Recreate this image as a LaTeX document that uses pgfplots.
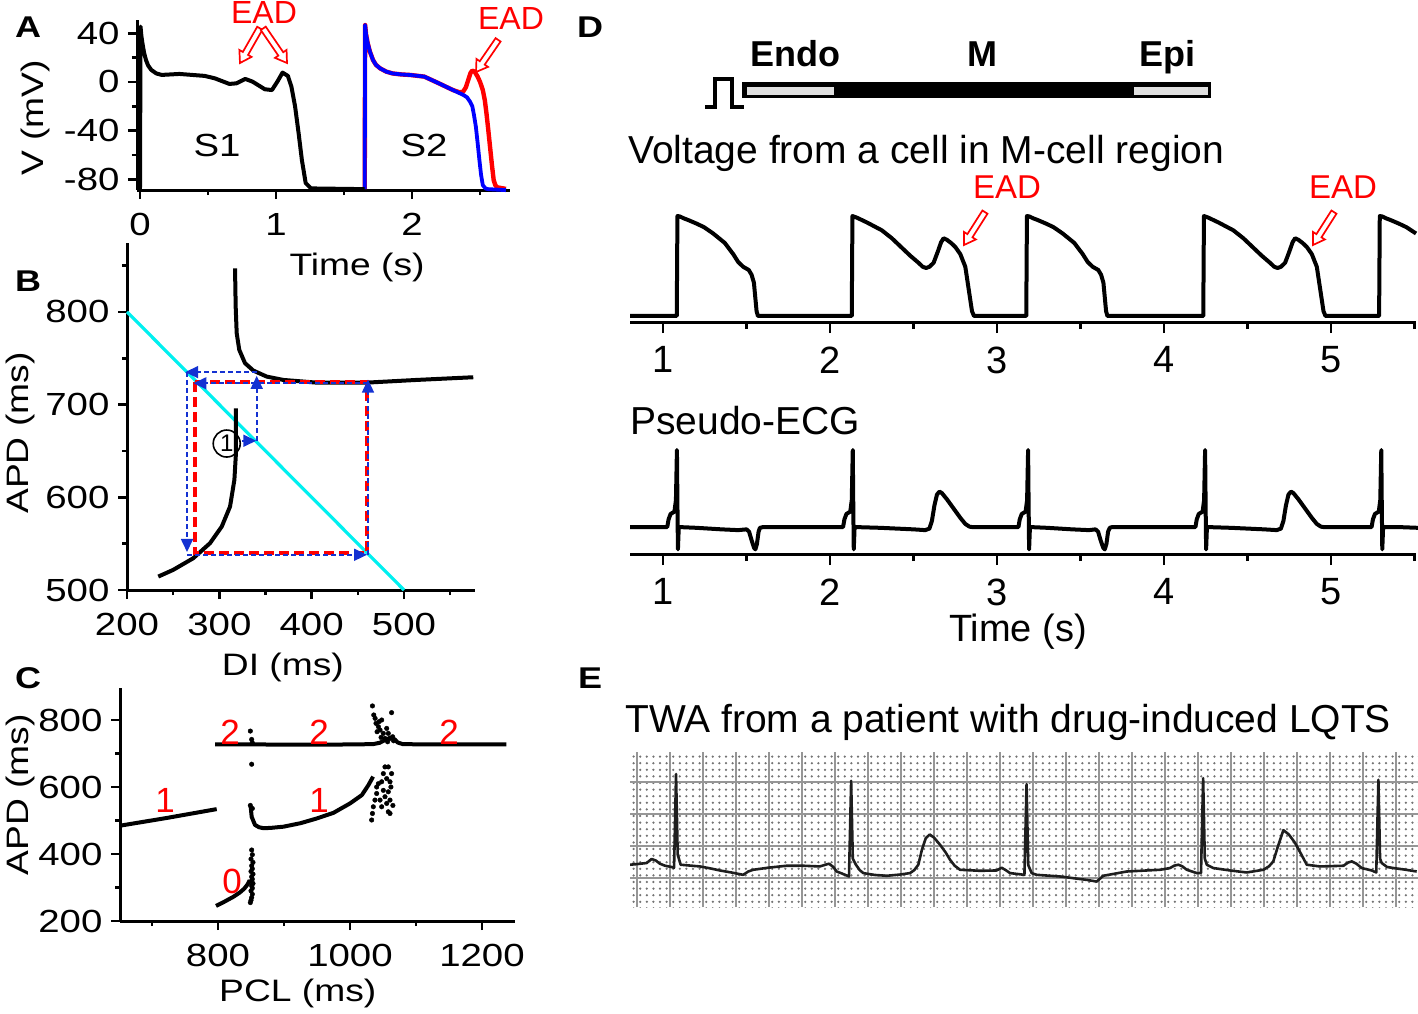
\documentclass[border=0pt]{standalone}
\usepackage{fontspec}
\setmainfont{Liberation Sans}
\newfontfamily\wf[FakeStretch=1.2]{Liberation Sans}
\usepackage{pgfplots}
\pgfplotsset{compat=1.18}
\usetikzlibrary{arrows.meta,patterns.meta}

\definecolor{cobblue}{RGB}{20,50,210}
\definecolor{dline}{RGB}{0,240,240}
\definecolor{ecg}{RGB}{30,30,30}
\definecolor{gridgray}{RGB}{150,150,150}

\pgfplotsset{
  panel/.style={
    scale only axis, anchor=south west, clip=false,
    axis x line*=bottom, axis y line*=left,
    tick align=outside,
    major tick length=9pt, minor tick length=5pt,
    every tick/.style={black, line width=2.6pt},
    axis line style={line width=3pt},
    tick label style={font=\wf\fontsize{32}{38}\selectfont},
    xticklabel style={yshift=-11pt},
    yticklabel style={xshift=-5pt},
    label style={font=\wf\fontsize{31}{37}\selectfont},
    /pgf/number format/assume math mode=true,
    /pgf/number format/1000 sep={},
  },
  trace/.style={black, line width=4pt, line join=round},
}

% hollow red arrow, tip at the origin, pointing along +x
\newcommand\hollowarrow[4]{% tip x, tip y, angle, length
  \begin{scope}[shift={(#1,#2)}, rotate=#3]
    \draw[red, line width=1.7pt, fill=white, line join=miter]
      (0,0) -- (-11,-7) -- (-11,-3) -- (-#4,-3) -- (-#4,3) -- (-11,3) -- (-11,7) -- cycle;
  \end{scope}}

\begin{document}
\begin{tikzpicture}
\useasboundingbox (0pt,0pt) rectangle (1418pt,-1014pt);

% ---------------- A ----------------
\begin{axis}[panel, at={(137pt,-190pt)}, width=373pt, height=170pt,
  xmin=-0.022, xmax=2.72, ymin=-88.7, ymax=50.9,
  xtick={0,1,2}, minor xtick={0.5,1.5,2.5},
  ytick={-80,-40,0,40}, minor ytick={-60,-20,20},
  xlabel={Time (s)}, ylabel={V (mV)},
  xlabel style={at={(axis description cs:0.59,-0.453)}, anchor=center},
  ylabel style={at={(axis description cs:-0.273,0.424)}, anchor=center},
]
\addplot[red, line width=4.4pt, line join=round] coordinates {
 (1.652,-88) (1.655,46.8) (1.662,39) (1.674,31.8) (1.69,25) (1.713,18) (1.735,14)
 (1.765,11.2) (1.81,8.5) (1.857,7) (1.92,6.2) (1.987,5.75) (2.09,4.4) (2.195,-1)
 (2.3,-6.6) (2.35,-8.5) (2.375,-8) (2.395,-4.5) (2.417,3) (2.43,7.5) (2.443,9.3)
 (2.46,8.5) (2.482,4.4) (2.50,0) (2.52,-6.6) (2.535,-15) (2.547,-25.8) (2.56,-39)
 (2.573,-53) (2.587,-68) (2.6,-80.6) (2.613,-85) (2.626,-86.5) (2.69,-87.8)};
\addplot[blue, line width=3.8pt, line join=round] coordinates {
 (1.652,-88) (1.655,46.8) (1.662,39) (1.674,31.8) (1.69,25) (1.713,18) (1.735,14)
 (1.765,11.2) (1.81,8.5) (1.857,7) (1.92,6.2) (1.987,5.75) (2.09,4.4) (2.195,-1)
 (2.3,-6.6) (2.378,-10.7) (2.404,-12.6) (2.425,-16) (2.443,-20) (2.455,-27)
 (2.469,-36.7) (2.482,-50) (2.495,-64) (2.507,-76) (2.52,-84.7) (2.54,-87.5)
 (2.56,-88) (2.69,-88.8)};
\addplot[trace] coordinates {
 (0.0,-88) (0.004,45.5) (0.01,38) (0.018,31.8) (0.03,24) (0.044,18) (0.06,13.5)
 (0.083,9.9) (0.12,7) (0.16,5.8) (0.29,6.6) (0.475,5) (0.55,3) (0.657,-1.6)
 (0.71,-1.1) (0.774,2.5) (0.827,0.3) (0.918,-6) (0.97,-6.6) (1.01,0.3) (1.048,7.7)
 (1.087,5) (1.113,-3.8) (1.14,-20) (1.166,-42) (1.19,-64) (1.218,-83) (1.257,-87.4)
 (1.652,-88)};
\end{axis}

% ---------------- B ----------------
\begin{axis}[panel, at={(127pt,-590pt)}, width=348pt, height=347pt,
  xmin=200, xmax=576.9, ymin=500, ymax=874.3,
  xtick={200,300,400,500}, minor xtick={250,350,450,550},
  ytick={500,600,700,800}, minor ytick={550,650,750,850},
  xlabel={DI (ms)}, ylabel={APD (ms)},
  xlabel style={at={(axis description cs:0.448,-0.222)}, anchor=center},
  ylabel style={at={(axis description cs:-0.307,0.452)}, anchor=center},
]
\addplot[dline, line width=3.2pt] coordinates {(200,800) (500,500)};
\addplot[trace] coordinates {
 (317,847) (317.7,805.7) (318.8,777) (321.6,759) (327.8,744.7) (336.8,736.7)
 (351.3,730.2) (369.3,726.6) (405.4,723.7) (459.6,723.7) (513.8,726.6) (575,729.5)};
\addplot[trace] coordinates {
 (233.9,514.5) (250,521.7) (271.8,534.3) (289.9,550.5) (302.6,568.4) (311.6,590)
 (316.3,618.8) (318,647.6) (318,696)};
\addplot[red, line width=4pt, dash pattern=on 10pt off 5pt] coordinates {
 (273.5,724) (273.5,540) (460,540) (460,724) (273.5,724)};
\begin{scope}[cobblue, line width=1.7pt, dash pattern=on 5pt off 3pt]
\addplot[-{Triangle[length=13pt,width=12pt]}] coordinates {(340.5,661) (340.5,731)};
\addplot[-{Triangle[length=13pt,width=12pt]}] coordinates {(340.5,735) (263,735)};
\addplot[-{Triangle[length=13pt,width=12pt]}] coordinates {(265,735) (265,541)};
\addplot[-{Triangle[length=13pt,width=12pt]}] coordinates {(265,538) (460,538)};
\addplot[-{Triangle[length=13pt,width=12pt]}] coordinates {(461,538) (461,727)};
\addplot[-{Triangle[length=13pt,width=12pt]}] coordinates {(461,723) (272,723)};
\addplot[-{Triangle[length=13pt,width=12pt]}] coordinates {(325,661) (340,661)};
\end{scope}
\node[draw, circle, line width=1.6pt, minimum size=27pt, inner sep=0pt,
  font=\fontsize{24}{26}\selectfont] at (axis cs:308,658) {1};
\end{axis}

% ---------------- C ----------------
\begin{axis}[panel, at={(120pt,-921pt)}, width=395pt, height=233pt,
  xmin=651.5, xmax=1250, ymin=200, ymax=895.5,
  xtick={800,1000,1200}, minor xtick={700,900,1100},
  ytick={200,400,600,800}, minor ytick={300,500,700},
  xlabel={PCL (ms)}, ylabel={APD (ms)},
  xlabel style={at={(axis description cs:0.45,-0.309)}, anchor=center},
  ylabel style={at={(axis description cs:-0.253,0.541)}, anchor=center},
]
\addplot[trace] coordinates {(651.5,484.5) (722,507.5) (798,534)};
\addplot[trace] coordinates {
 (795.5,727.5) (850,727) (950,726.5) (1000,727) (1035,728) (1045,732) (1055,742)
 (1062,748) (1068,742) (1072,733) (1080,728) (1120,727) (1237,727.5)};
\addplot[trace] coordinates {
 (849.5,541) (851,511) (856,487) (862,480) (869,477) (880,478) (899,481.5) (925,492)
 (949.5,506) (975,523) (1000,551) (1018,576) (1028,606) (1035,631)};
\addplot[trace] coordinates {
 (797,245) (810,258) (823,272) (833,285) (840,297) (845,310) (848,322)};
\addplot[only marks, mark=*, mark size=2.3pt, black] coordinates {
 (849,255) (850,262) (851,270) (852,280) (850,290) (852,298) (851,305) (853,312)
 (850,318) (852,325) (851,332) (853,340) (850,348) (852,356) (851,365) (853,375)
 (850,385) (852,398) (851,412) (852,536) (849,545) (851,668) (849,767) (851,742)
 (852,732)
 (1032.8,501.5) (1034,521) (1035.3,541) (1037.8,561) (1040.4,580.6) (1040.4,600)
 (1048,615.6) (1050.5,640) (1053,660) (1058,660) (1055.6,625) (1060.6,615.6)
 (1058,585.7) (1053,571) (1055.6,551) (1060.6,561) (1058,526) (1060.6,521)
 (1048,541) (1045.5,561) (1050.5,590) (1043,610) (1063,640) (1062,600) (1065,545)
 (1034,842) (1038,805) (1039.4,790) (1043,780) (1048,800) (1063,822) (1055.6,775)
 (1058,760) (1050.5,760) (1045.5,770) (1060.6,745) (1064.6,750) (1053,745)
 (1041,765) (1047,748) (1057,735) (1066,738) (1036,815) (1044,795)};
\end{axis}

% ---------------- D: membrane voltage ----------------
\begin{axis}[panel, at={(630pt,-322pt)}, width=786pt, height=117pt,
  axis y line=none, xmin=0.802, xmax=5.509, ymin=-93.6, ymax=53.9,
  xtick={1,2,3,4,5}, minor xtick={1.5,2.5,3.5,4.5,5.5},
  major tick length=11pt, minor tick length=7pt,
  tick label style={font=\fontsize{38}{44}\selectfont},
  xticklabel style={yshift=1pt},
]
\addplot[trace] coordinates {
 (0.802,-86) (1.082,-86) (1.086,40) (1.10,39.5) (1.125,37) (1.15,35) (1.20,30.5)
 (1.245,26) (1.30,18) (1.37,6) (1.42,-8) (1.45,-18) (1.48,-24) (1.513,-28)
 (1.53,-34) (1.544,-44) (1.552,-62) (1.56,-80) (1.568,-86)
 (2.130,-86) (2.134,40) (2.16,38) (2.22,32) (2.31,22) (2.37,12) (2.43,0) (2.48,-10)
 (2.53,-19) (2.555,-24) (2.575,-25.5) (2.595,-24) (2.62,-19) (2.645,-5) (2.665,7)
 (2.68,12) (2.70,10) (2.725,6) (2.75,1) (2.78,-8) (2.81,-24) (2.825,-45) (2.84,-66)
 (2.85,-80) (2.862,-86)
 (3.175,-86) (3.179,40) (3.193,39.5) (3.218,37) (3.243,35) (3.293,30.5) (3.338,26)
 (3.393,18) (3.463,6) (3.513,-8) (3.543,-18) (3.573,-24) (3.606,-28) (3.623,-34)
 (3.637,-44) (3.645,-62) (3.653,-80) (3.661,-86)
 (4.235,-86) (4.239,40) (4.265,38) (4.325,32) (4.415,22) (4.475,12) (4.535,0)
 (4.585,-10) (4.635,-19) (4.66,-24) (4.68,-25.5) (4.70,-24) (4.725,-19) (4.75,-5)
 (4.77,7) (4.785,12) (4.805,10) (4.83,6) (4.855,1) (4.885,-8) (4.915,-24) (4.93,-45)
 (4.945,-66) (4.955,-80) (4.967,-86)
 (5.288,-86) (5.292,40) (5.306,39.5) (5.331,37) (5.356,35) (5.406,30.5) (5.451,26)
 (5.509,18)};
\end{axis}

% ---------------- D: pseudo-ECG ----------------
\begin{axis}[panel, at={(630pt,-554pt)}, width=786pt, height=114pt,
  axis y line=none, xmin=0.802, xmax=5.509, ymin=-0.35, ymax=1.13,
  xtick={1,2,3,4,5}, minor xtick={1.5,2.5,3.5,4.5,5.5},
  major tick length=11pt, minor tick length=7pt,
  tick label style={font=\fontsize{38}{44}\selectfont},
  xticklabel style={yshift=1pt},
  xlabel={Time (s)},
  label style={font=\fontsize{38}{44}\selectfont},
  xlabel style={at={(axis description cs:0.4936,-0.684)}, anchor=center},
]
\addplot[trace] coordinates {
 (0.802,0) (1.025,0) (1.033,0.1) (1.045,0.17) (1.068,0.2) (1.077,0.35) (1.083,1.0)
 (1.086,0.3) (1.089,-0.29) (1.094,0) (1.2,-0.01) (1.35,-0.03) (1.45,-0.04) (1.50,-0.03)
 (1.515,-0.06) (1.53,-0.17) (1.545,-0.27) (1.553,-0.29) (1.562,-0.22) (1.572,-0.06)
 (1.58,-0.01) (1.6,0)
 (2.078,0) (2.086,0.1) (2.098,0.17) (2.121,0.2) (2.130,0.35) (2.136,1.0) (2.139,0.3)
 (2.142,-0.29) (2.147,0) (2.3,-0.01) (2.5,-0.03) (2.57,-0.04) (2.595,-0.02) (2.61,0.08)
 (2.625,0.28) (2.64,0.42) (2.655,0.46) (2.67,0.44) (2.70,0.36) (2.74,0.24) (2.78,0.12)
 (2.81,0.04) (2.835,0.005) (2.85,0)
 (3.128,0) (3.136,0.1) (3.148,0.17) (3.171,0.2) (3.180,0.35) (3.186,1.0) (3.189,0.3)
 (3.192,-0.29) (3.197,0) (3.3,-0.01) (3.45,-0.03) (3.55,-0.04) (3.59,-0.03)
 (3.605,-0.06) (3.62,-0.17) (3.636,-0.27) (3.645,-0.29) (3.655,-0.22) (3.665,-0.06)
 (3.675,-0.01) (3.69,0)
 (4.188,0) (4.196,0.1) (4.208,0.17) (4.231,0.2) (4.240,0.35) (4.246,1.0) (4.249,0.3)
 (4.252,-0.29) (4.257,0) (4.4,-0.01) (4.6,-0.03) (4.675,-0.04) (4.70,-0.02)
 (4.715,0.08) (4.73,0.28) (4.745,0.42) (4.76,0.46) (4.775,0.44) (4.805,0.36)
 (4.845,0.24) (4.885,0.12) (4.915,0.04) (4.94,0.005) (4.955,0)
 (5.243,0) (5.251,0.1) (5.263,0.17) (5.286,0.2) (5.295,0.35) (5.301,1.0) (5.304,0.3)
 (5.307,-0.29) (5.312,0) (5.4,0) (5.52,-0.01)};
\end{axis}

% ---------------- E: patient ECG on paper ----------------
\begin{axis}[scale only axis, anchor=south west, at={(630pt,-907pt)},
  width=788pt, height=155pt,
  xmin=0.158, xmax=4.933, ymin=-0.457, ymax=1.97,
  xtick={0.2,0.4,0.6,0.8,1.0,1.2,1.4,1.6,1.8,2.0,2.2,2.4,2.6,2.8,3.0,3.2,3.4,3.6,3.8,4.0,4.2,4.4,4.6,4.8},
  ytick={0,0.5,1,1.5},
  xticklabels={}, yticklabels={}, major tick length=0pt,
  grid=major, major grid style={gridgray, line width=1.8pt},
  axis line style={draw=none},
  axis background/.style={pattern={Dots[distance=6.6pt,radius=1.25pt]}, pattern color=black!55},
]
\addplot[ecg, line width=2.6pt, line join=round] coordinates {
 (0.158,0.205) (0.20,0.215) (0.259,0.232) (0.289,0.295) (0.315,0.27) (0.339,0.221)
 (0.37,0.19) (0.410,0.169) (0.425,0.158) (0.437,1.625) (0.447,0.363) (0.465,0.205)
 (0.53,0.19) (0.582,0.178) (0.64,0.15) (0.703,0.115) (0.78,0.08) (0.844,0.047)
 (0.875,0.1) (0.905,0.126) (1.0,0.16) (1.107,0.189) (1.2,0.19) (1.309,0.178)
 (1.335,0.2) (1.364,0.221) (1.39,0.17) (1.410,0.099) (1.440,0.07) (1.461,0.047)
 (1.485,0.021) (1.498,1.519) (1.508,0.3) (1.527,0.205) (1.55,0.12) (1.572,0.074)
 (1.64,0.045) (1.713,0.032) (1.79,0.05) (1.855,0.074) (1.88,0.12) (1.905,0.205)
 (1.927,0.44) (1.95,0.62) (1.974,0.678) (2.0,0.63) (2.036,0.52) (2.07,0.40)
 (2.097,0.284) (2.125,0.19) (2.158,0.126) (2.279,0.11) (2.379,0.115) (2.41,0.158)
 (2.435,0.12) (2.461,0.074) (2.548,0.047) (2.561,1.467) (2.571,0.2) (2.592,0.074)
 (2.622,0.047) (2.764,0.021) (2.925,-0.032) (2.986,-0.058) (3.026,0.032)
 (3.168,0.099) (3.37,0.126) (3.43,0.153) (3.455,0.19) (3.481,0.205) (3.505,0.18)
 (3.532,0.126) (3.592,0.074) (3.618,0.074) (3.631,1.56) (3.641,0.3) (3.653,0.205)
 (3.693,0.153) (3.794,0.115) (3.895,0.084) (3.996,0.126) (4.03,0.18) (4.056,0.257)
 (4.085,0.5) (4.117,0.746) (4.15,0.68) (4.188,0.547) (4.225,0.37) (4.259,0.205)
 (4.339,0.178) (4.481,0.189) (4.51,0.24) (4.532,0.257) (4.56,0.22) (4.592,0.153)
 (4.653,0.115) (4.68,0.084) (4.693,1.535) (4.703,0.3) (4.713,0.232) (4.745,0.17)
 (4.784,0.153) (4.85,0.13) (4.925,0.099)};
\end{axis}

% ---------------- annotations ----------------
\begin{scope}[x=1pt, y=-1pt]
\tikzset{letter/.style={font=\wf\bfseries\fontsize{30}{34}\selectfont, anchor=base}}
\node[letter] at (28,38) {A};
\node[letter] at (28,291) {B};
\node[letter] at (28,688) {C};
\node[letter] at (590,38) {D};
\node[letter] at (590,688) {E};

\tikzset{big/.style={font=\fontsize{35}{40}\selectfont, anchor=base}}
\node[big, font=\wf\fontsize{32}{36}\selectfont] at (217,157) {S1};
\node[big, font=\wf\fontsize{32}{36}\selectfont] at (424,157) {S2};
\node[big, red, font=\fontsize{32}{36}\selectfont] at (264,24) {EAD};
\node[big, red, font=\fontsize{32}{36}\selectfont] at (511,30) {EAD};
\hollowarrow{240}{63}{-119.7}{40}
\hollowarrow{287}{63}{-55.6}{42}
\hollowarrow{476}{72}{-124.5}{39}

\node[big, red] at (230,744) {2};
\node[big, red] at (319,744) {2};
\node[big, red] at (449,744) {2};
\node[big, red] at (165,812) {1};
\node[big, red] at (319,812) {1};
\node[big, red] at (232,893) {0};

% cable
\draw[line width=4pt] (705,107) -- (715,107) -- (715,79) -- (732,79) -- (732,107) -- (744,107);
\draw[line width=1.2pt, fill=black] (743,83) rectangle (1210,97.5);
\draw[line width=1pt, fill=gray!25] (746,86.5) rectangle (834,95.5);
\draw[line width=1pt, fill=gray!25] (1133,86.5) rectangle (1208,95.5);
\tikzset{cab/.style={font=\bfseries\fontsize{36}{40}\selectfont, anchor=base}}
\node[cab] at (795,67) {Endo};
\node[cab] at (982,67) {M};
\node[cab] at (1167,67) {Epi};

\tikzset{ttl/.style={font=\fontsize{39}{46}\selectfont, anchor=base west, inner sep=0pt}}
\node[ttl] at (628,163) {Voltage from a cell in M-cell region};
\node[ttl] at (630,434) {Pseudo-ECG};
\node[ttl] at (625,732) {TWA from a patient with drug-induced LQTS};

\node[big, red, font=\fontsize{33}{36}\selectfont] at (1007,198) {EAD};
\node[big, red, font=\fontsize{33}{36}\selectfont] at (1343,198) {EAD};
\hollowarrow{964}{245}{-122.5}{39}
\hollowarrow{1313}{245}{-122.5}{39}
\end{scope}
\end{tikzpicture}
\end{document}
